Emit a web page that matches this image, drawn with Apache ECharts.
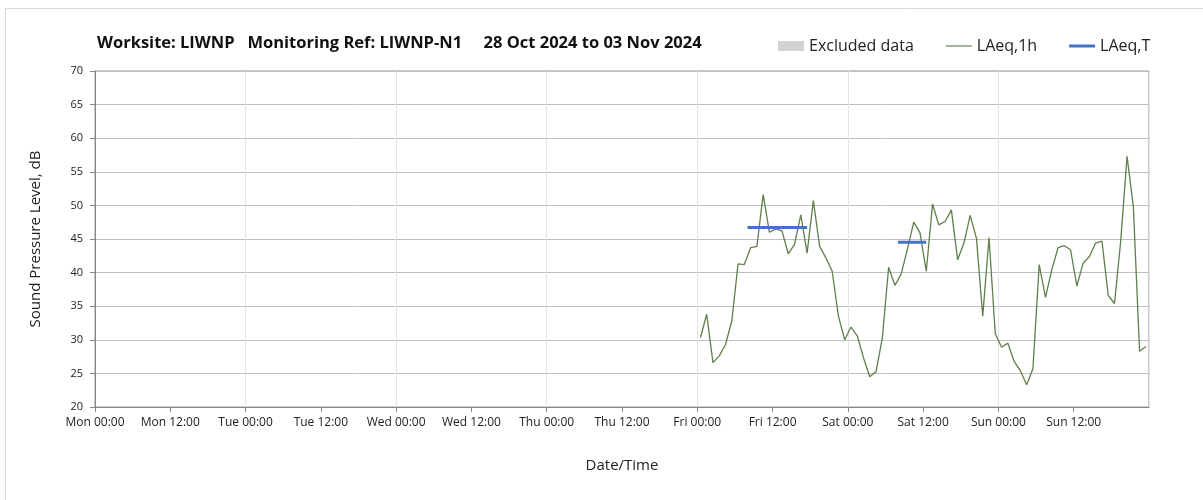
<!DOCTYPE html>
<html>
<head>
<meta charset="utf-8">
<script src="https://cdn.jsdelivr.net/npm/echarts@6/dist/echarts.min.js"></script>
<style>
html, body { margin: 0; padding: 0; background: #fff; }
#chart { width: 1203px; height: 500px; }
</style>
</head>
<body>
<div id="chart"></div>
<script>
// hours counted from Mon 00:00, one week
var dayNames = ['Mon', 'Tue', 'Wed', 'Thu', 'Fri', 'Sat', 'Sun'];
var yTicks = [20, 25, 30, 35, 40, 45, 50, 55, 60, 65, 70];

// LAeq,1h hourly values, Fri 00:00 to Sun 23:00
var firstHour = 96;
var laeq1h = [
	30.3, 33.8, 26.6, 27.6, 29.3, 32.8, 41.3, 41.2, 43.7, 43.9, 51.6, 46.0,
	46.5, 46.2, 42.8, 44.2, 48.6, 42.9, 50.7, 43.9, 42.2, 40.2, 33.5, 30.0,
	31.9, 30.6, 27.3, 24.5, 25.3, 30.3, 40.8, 38.1, 39.8, 43.5, 47.5, 45.9,
	40.2, 50.2, 47.1, 47.6, 49.3, 41.9, 44.4, 48.5, 45.1, 33.5, 45.2, 30.9,
	28.9, 29.5, 26.8, 25.4, 23.3, 25.7, 41.2, 36.3, 40.4, 43.7, 44.0, 43.4,
	38.0, 41.4, 42.4, 44.4, 44.7, 36.6, 35.4, 44.8, 57.3, 49.9, 28.3, 29.0
];

// LAeq,T periods (start hour, end hour) and levels
var laeqTStart = [104, 128];
var laeqTEnd = [113.5, 132.5];
var laeqTValue = [46.7, 44.5];

var line1h = [];
for (var i = 0; i < laeq1h.length; i++) {
	line1h.push([firstHour + i + 0.5, laeq1h[i]]);
}

var seriesList = [{
	name: 'Excluded data',
	type: 'line',
	data: [],
	itemStyle: { color: '#d3d3d3' }
}, {
	name: 'LAeq,1h',
	type: 'line',
	data: line1h,
	showSymbol: false,
	lineStyle: { color: '#5f7f4a', width: 1.3 },
	itemStyle: { color: '#4a6a35' },
	z: 3
}];
for (var k = 0; k < laeqTStart.length; k++) {
	seriesList.push({
		name: 'LAeq,T',
		type: 'line',
		data: [[laeqTStart[k], laeqTValue[k]], [laeqTEnd[k], laeqTValue[k]]],
		showSymbol: false,
		lineStyle: { color: '#4472c4', width: 3 },
		itemStyle: { color: '#4472c4' },
		z: 4
	});
}

var myChart = echarts.init(document.getElementById('chart'));
var option = {
	animation: false,
	textStyle: { fontFamily: 'Open Sans' },
	title: {
		text: 'Worksite: LIWNP   Monitoring Ref: LIWNP-N1     28 Oct 2024 to 03 Nov 2024',
		left: 92,
		top: 30,
		textStyle: { fontSize: 16.5, fontWeight: 'bold', color: '#111', fontFamily: 'Open Sans' }
	},
	legend: {
		left: 773,
		top: 33,
		itemGap: 32,
		itemWidth: 26,
		itemHeight: 10,
		textStyle: { fontSize: 16, color: '#222', fontFamily: 'Open Sans' },
		data: [
			{ name: 'Excluded data', icon: 'rect' },
			{ name: 'LAeq,1h', icon: 'path://M0,0 H26 V1 H0 Z' },
			{ name: 'LAeq,T', icon: 'path://M0,0 H26 V3 H0 Z' }
		]
	},
	graphic: [{
		type: 'rect',
		shape: { x: 5.5, y: 8.5, width: 1300, height: 600 },
		style: { fill: 'none', stroke: '#d9d9d9', lineWidth: 1 },
		silent: true
	}],
	grid: {
		left: 95,
		right: 54,
		top: 71,
		bottom: 93,
		show: true,
		borderColor: '#999',
		borderWidth: 1
	},
	xAxis: {
		type: 'value',
		min: 0,
		max: 168,
		interval: 12,
		name: 'Date/Time',
		nameLocation: 'middle',
		nameGap: 51,
		nameTextStyle: { fontSize: 15, color: '#222' },
		axisLine: { lineStyle: { color: '#888' } },
		axisTick: { show: true, length: 5, lineStyle: { color: '#888' } },
		axisLabel: {
			fontSize: 12,
			color: '#222',
			margin: 10,
			showMaxLabel: false,
			formatter: function (v) {
				var d = Math.floor(v / 24);
				return dayNames[d % 7] + ' ' + (v % 24 === 0 ? '00:00' : '12:00');
			}
		},
		splitLine: { show: true, lineStyle: { color: ['#e3e3e3', 'rgba(0,0,0,0)'] } }
	},
	yAxis: {
		type: 'value',
		min: yTicks[0],
		max: yTicks[yTicks.length - 1],
		interval: 5,
		name: 'Sound Pressure Level, dB',
		nameLocation: 'middle',
		nameGap: 52,
		nameTextStyle: { fontSize: 15, color: '#222' },
		axisLine: { show: true, lineStyle: { color: '#888' } },
		axisTick: { show: true, length: 5, lineStyle: { color: '#888' } },
		axisLabel: { fontSize: 11, color: '#222', margin: 12 },
		splitLine: { lineStyle: { color: '#c0c0c0' } }
	},
	series: seriesList
};
myChart.setOption(option);
</script>
</body>
</html>
